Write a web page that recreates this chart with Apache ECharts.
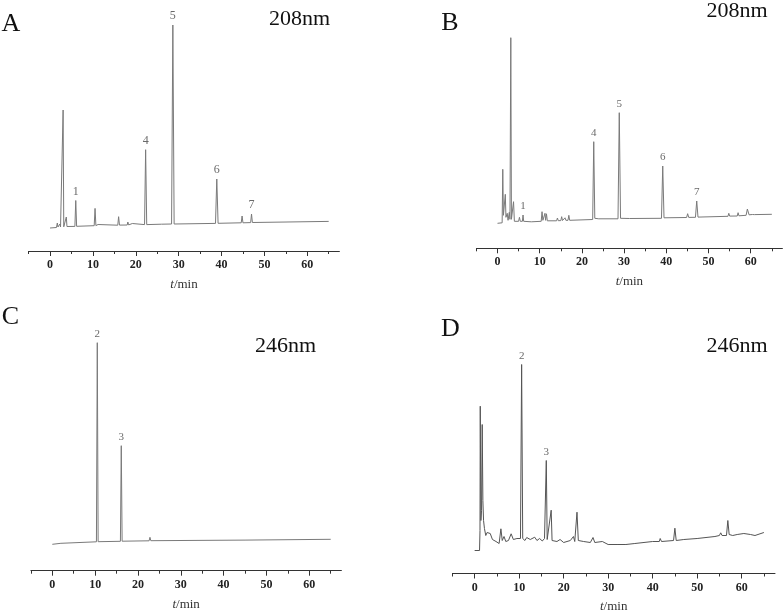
<!DOCTYPE html>
<html>
<head>
<meta charset="utf-8">
<script src="https://cdn.jsdelivr.net/npm/echarts@6.0.0/dist/echarts.min.js"></script>
<style>
  html, body { margin: 0; padding: 0; background: #fff; }
  #main { width: 784px; height: 615px; }
</style>
</head>
<body>
<div id="main"></div>
<script>
// retention time (min), signal (relative units above the starting baseline)
const traceA = [[0,0],[1.5,0.5],[1.7,5],[1.85,1],[2.3,4],[2.45,1],[2.9,1.2],[3.05,118],[3.2,1.2],[3.6,1.5],[3.8,11],[3.95,1.5],
  [5.8,1.6],[6.0,27.5],[6.2,1.7],[10.3,2.3],[10.5,19.6],[10.7,2.4],[11.2,3.5],[11.4,2.5],[15.8,2.8],[16.0,11.3],[16.2,2.9],
  [18.0,3],[18.15,6],[18.35,3.1],[19.2,4.5],[19.4,3.2],[22.05,3.4],[22.3,78.3],[22.55,3.4],[26,3.8],[28.35,4],[28.65,203],
  [28.95,4],[38.6,4.6],[38.9,49],[39.2,4.7],[44.6,5.2],[44.8,12],[45.0,5.2],[46.8,5.4],[47.0,14],[47.2,5.5],[65,6.6]];
const peaksA = [[6.0,'1'],[22.3,'4'],[28.65,'5'],[38.9,'6'],[47.0,'7']];

const traceB = [[0,0],[1.1,0.5],[1.25,54],[1.4,8],[1.65,6],[1.85,29],[2.0,6],[2.3,10],[2.5,3],[2.8,11],[2.95,4],[3.15,185.6],
  [3.3,4],[3.6,5],[3.8,21.6],[4.0,2],[5.0,2],[5.2,6],[5.4,2],[5.9,2],[6.05,8.3],[6.2,2],[8,1.5],[10.35,2],[10.55,11.6],
  [10.75,3],[11.1,3],[11.25,10],[11.4,3],[11.6,9.5],[11.8,2.5],[14.0,2.5],[14.2,5.3],[14.4,2.6],[15.0,2.7],[15.2,6.6],
  [15.4,2.8],[15.8,2.9],[16.0,5.5],[16.2,3],[16.7,3],[16.9,8],[17.1,3],[22.55,3.8],[22.8,81.6],[23.05,5],[23.5,6.5],[24,4.5],
  [28.55,4.5],[28.85,110.6],[29.15,5],[31.3,4.8],[31.5,6.5],[31.7,4.8],[38.85,5],[39.15,57.3],[39.45,5.5],[44.8,5.8],
  [45.05,9.6],[45.3,5.9],[46.9,6],[47.2,22.3],[47.5,6.2],[54.6,7],[54.8,10],[55.0,7.2],[56.8,7.3],[57.0,10.6],[57.2,7.5],
  [58.9,8],[59.2,14.3],[59.6,8.5],[60.4,8.8],[60.6,10.5],[60.9,8.7],[65,9]];
const peaksB = [[6.05,'1'],[22.8,'4'],[28.85,'5'],[39.15,'6'],[47.2,'7']];

const traceC = [[0,0],[2,1],[10.3,2.5],[10.5,201.6],[10.7,2.6],[15.9,3],[16.1,98.6],[16.3,3.1],[22.6,3.5],[22.8,7],[23.0,3.6],
  [45,4.2],[65,5]];
const peaksC = [[10.5,'2'],[16.1,'3']];

const traceD = [[0,0],[1.1,0],[1.2,20],[1.26,144.3],[1.4,30],[1.55,40],[1.7,126],[1.85,50],[2.0,30],[2.2,22],[2.5,15],[2.8,18],
  [3.1,16],[3.5,17],[4.0,11],[4.8,9],[5.5,7],[5.9,21.7],[6.2,10],[6.6,14],[7.0,9],[7.6,10],[8.2,16.7],[8.7,11],[9.5,12],
  [10.3,12],[10.56,186],[10.8,12],[11.3,10],[11.7,13],[12.5,11],[13.5,13.3],[14.0,10],[14.6,12],[15.2,9.5],[15.7,12],
  [15.9,14],[16.1,90],[16.3,11],[16.6,9],[17.2,40.3],[17.4,10],[18.5,9],[19.2,11],[20.0,8],[21.5,10],[22.2,14],[22.5,9],
  [23.0,38.3],[23.3,10],[24.5,9],[26.0,8],[26.6,13],[27.0,8],[28.7,9],[30,6],[32,6],[34,6],[36,7],[40,9],[41.5,9],
  [41.7,12],[42.0,9],[44.7,10],[45.0,22.3],[45.3,10],[47,11],[50,12],[54,14],[55.0,15],[55.3,17.7],[55.6,15],[56.6,15],
  [56.9,30],[57.2,16],[58,15],[59,16],[60.5,17],[62,16],[63,15],[65,18]];
const peaksD = [[10.56,'2'],[16.1,'3']];

const majorTicks = [0, 10, 20, 30, 40, 50, 60];
const minorTicks = [-5, 5, 15, 25, 35, 45, 55, 65];

const serif = '"Liberation Serif", serif';

const panels = [
  { trace: traceA, peaks: peaksA, grid: { left: 28.6, width: 310.8, top: 10, height: 241 }, yMin: -23, yMax: 218, color: '#7a7a7a', labelSize: 12 },
  { trace: traceB, peaks: peaksB, grid: { left: 476.4, width: 306, top: 10, height: 238.3 }, yMin: -25, yMax: 213.3, color: '#7a7a7a', labelSize: 11 },
  { trace: traceC, peaks: peaksC, grid: { left: 30.9, width: 310.5, top: 320, height: 250.7 }, yMin: -26.4, yMax: 224.3, color: '#7a7a7a', labelSize: 11 },
  { trace: traceD, peaks: peaksD, grid: { left: 452.4, width: 322.6, top: 320, height: 253.5 }, yMin: -23, yMax: 230.5, color: '#555', labelSize: 11 }
];

const grids = [], xAxes = [], yAxes = [], series = [];

panels.forEach((p, i) => {
  grids.push(Object.assign({ containLabel: false }, p.grid));
  xAxes.push({
    gridIndex: i, type: 'value', min: -5, max: 67.5, position: 'bottom',
    axisLine: { show: true, onZero: false, lineStyle: { color: '#333', width: 1 } },
    axisTick: { show: true, customValues: majorTicks, length: 5, inside: false, lineStyle: { color: '#333' } },
    axisLabel: { customValues: majorTicks, margin: 8, fontFamily: serif, fontWeight: 'bold', fontSize: 12, color: '#222' },
    splitLine: { show: false },
    name: '{i|t}/min', nameLocation: 'middle', nameGap: 27,
    nameTextStyle: {
      fontFamily: serif, fontSize: 13, color: '#333',
      rich: { i: { fontFamily: serif, fontSize: 13, fontStyle: 'italic', color: '#333' } }
    }
  });
  // minor ticks every 5 min, same baseline as the main axis
  xAxes.push({
    gridIndex: i, type: 'value', min: -5, max: 67.5, position: 'bottom',
    axisLine: { show: false, onZero: false },
    axisTick: { show: true, customValues: minorTicks, length: 3, inside: false, lineStyle: { color: '#333' } },
    axisLabel: { show: false },
    splitLine: { show: false }
  });
  yAxes.push({ gridIndex: i, type: 'value', min: p.yMin, max: p.yMax, show: false, splitLine: { show: false } });

  series.push({
    type: 'line', xAxisIndex: i * 2, yAxisIndex: i,
    data: p.trace, showSymbol: false, smooth: false,
    lineStyle: { color: p.color, width: 1 }, silent: true
  });
  const peakLabel = { show: true, position: 'top', distance: 3, fontFamily: serif, fontSize: p.labelSize, color: '#444', textBorderWidth: 0 };
  const apex = p.peaks.map(([t, name]) => {
    const pt = p.trace.find(d => d[0] === t);
    return { value: [t, pt[1]], label: Object.assign({}, peakLabel, { formatter: name }) };
  });
  series.push({
    type: 'scatter', xAxisIndex: i * 2, yAxisIndex: i,
    data: apex, symbolSize: 0, silent: true,
    itemStyle: { color: '#444' },
    label: peakLabel
  });
});

const textStyle = (text, x, y, size) => ({
  type: 'text', x: x, y: y, silent: true,
  style: { text: text, fontFamily: serif, fontSize: size, fill: '#111', align: 'center', verticalAlign: 'middle' }
});

const chart = echarts.init(document.getElementById('main'));
chart.setOption({
  animation: false,
  backgroundColor: '#fff',
  grid: grids,
  xAxis: xAxes,
  yAxis: yAxes,
  series: series,
  graphic: [
    textStyle('A', 11, 24, 26),
    textStyle('B', 450, 23.5, 26),
    textStyle('C', 10.5, 317.5, 26),
    textStyle('D', 450.5, 329, 26),
    textStyle('208nm', 299.5, 19.5, 22),
    textStyle('208nm', 737, 11, 22),
    textStyle('246nm', 285.5, 346.5, 22),
    textStyle('246nm', 737, 346.5, 22)
  ]
});
</script>
</body>
</html>
